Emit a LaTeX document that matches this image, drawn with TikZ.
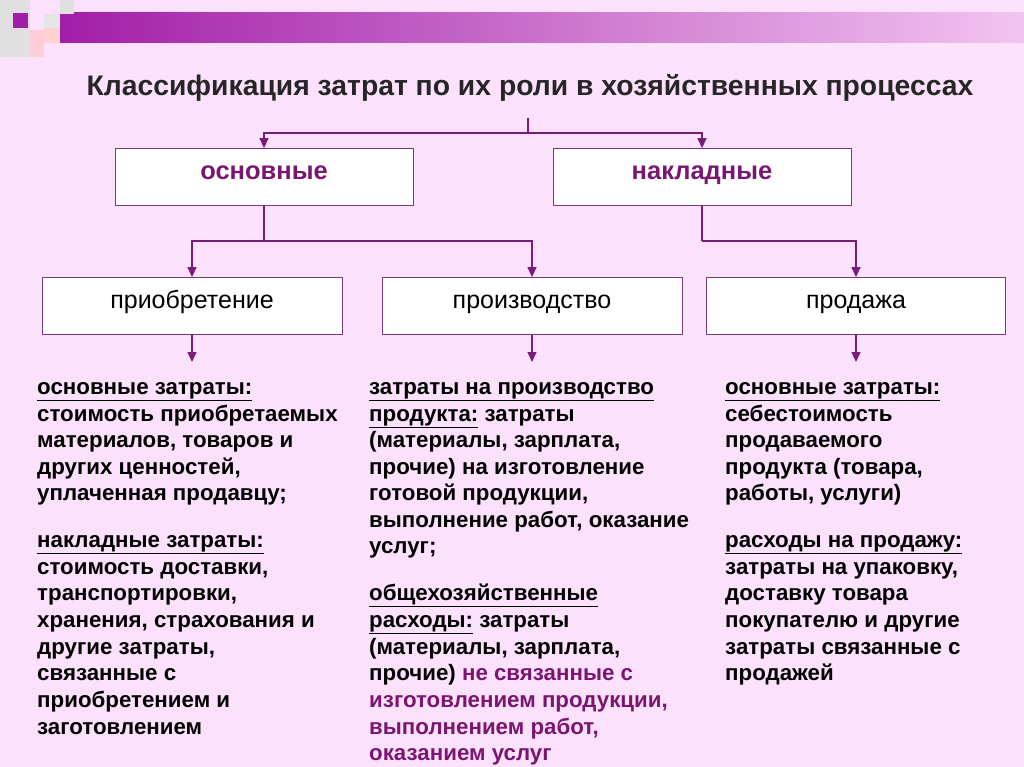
\documentclass[tikz,border=0pt]{standalone}
\usepackage{fontspec}
\setmainfont{Liberation Sans}
\usetikzlibrary{arrows.meta}
\definecolor{bg}{HTML}{FCE1FC}
\definecolor{ln}{HTML}{781C78}
\definecolor{pt}{HTML}{7A1670}
\definecolor{bar1}{HTML}{A21EA8}
\definecolor{bar2}{HTML}{F2C4F0}
\newcommand{\pu}[1]{\textcolor{pt}{#1}}
\newcommand{\ul}[1]{\underline{#1}}
\begin{document}
\begin{tikzpicture}[x=1pt,y=-1pt,
  box/.style={draw=ln!70!gray,fill=white,line width=0.8pt,minimum height=57pt,inner sep=0pt,text height=0.56em,text depth=0pt},
  conn/.style={draw=ln,line width=1.3pt},
  arr/.style={conn,-{Triangle[length=10pt,width=9pt]}},
  tl/.style={anchor=base west,inner sep=0pt,font=\fontsize{22.3}{24}\selectfont\bfseries}]
\fill[bg] (0,0) rectangle (1024,767);
\useasboundingbox (0,0) rectangle (1024,767);
% top bar
\shade[left color=bar1,right color=bar2] (60,13) rectangle (1024,43);
\fill[black!12] (0,0) rectangle (30,57);
\fill[pink!60!bg] (30,30) rectangle (44,57);
\fill[bar1] (13,13) rectangle (28,28);
\fill[black!10] (44,14) rectangle (60,28);
\fill[pink!70] (44,28) rectangle (60,43);
\fill[black!12] (60,0) rectangle (74,14);
% title
\node[font=\fontsize{28.3}{30}\selectfont\bfseries,text=black!85] (title) at (530,88) {Классификация затрат по их роли в хозяйственных процессах};
% level 1
\node[box,minimum width=298pt,font=\fontsize{25.5}{27}\selectfont\bfseries,text=pt] (osn) at (264,177) {основные};
\node[box,minimum width=298pt,font=\fontsize{25.5}{27}\selectfont\bfseries,text=pt] (nak) at (702,177) {накладные};
\coordinate (top) at (528,118);
\draw[conn] (top) -- (528,133);
\draw[arr] (528,133) -| (osn.north);
\draw[arr] (528,133) -| (nak.north);
% level 2
\node[box,minimum width=300pt,font=\fontsize{25}{27}\selectfont] (pri) at (192,306) {приобретение};
\node[box,minimum width=300pt,font=\fontsize{25}{27}\selectfont] (pro) at (532,306) {производство};
\node[box,minimum width=299pt,font=\fontsize{25}{27}\selectfont] (prd) at (856,306) {продажа};
\draw[conn] (osn.south) -- (264,241);
\draw[conn] (nak.south) -- (702,241);
\draw[arr] (264,241) -| (pri.north);
\draw[arr] (264,241) -| (pro.north);
\draw[arr] (702,241) -| (prd.north);
\coordinate (a1) at (192,362);
\coordinate (a2) at (532,362);
\coordinate (a3) at (856,362);
\draw[arr] (pri.south) -- (a1);
\draw[arr] (pro.south) -- (a2);
\draw[arr] (prd.south) -- (a3);
% column 1
\node[tl] (c1a) at (37,394) {\ul{основные затраты:}};
\node[tl] (c1b) at (37,421) {стоимость приобретаемых};
\node[tl] (c1c) at (37,447) {материалов, товаров и};
\node[tl] (c1d) at (37,474) {других ценностей,};
\node[tl] (c1e) at (37,500) {уплаченная продавцу;};
\node[tl] (c1f) at (37,547) {\ul{накладные затраты:}};
\node[tl] (c1g) at (37,574) {стоимость доставки,};
\node[tl] (c1h) at (37,600) {транспортировки,};
\node[tl] (c1i) at (37,627) {хранения, страхования и};
\node[tl] (c1j) at (37,654) {другие затраты,};
\node[tl] (c1k) at (37,680) {связанные с};
\node[tl] (c1l) at (37,707) {приобретением и};
\node[tl] (c1m) at (37,734) {заготовлением};
% column 2
\node[tl] (c2a) at (369,394) {\ul{затраты на производство}};
\node[tl] (c2b) at (369,421) {\ul{продукта:} затраты};
\node[tl] (c2c) at (369,447) {(материалы, зарплата,};
\node[tl] (c2d) at (369,474) {прочие) на изготовление};
\node[tl] (c2e) at (369,500) {готовой продукции,};
\node[tl] (c2f) at (369,527) {выполнение работ, оказание};
\node[tl] (c2g) at (369,553) {услуг;};
\node[tl] (c2h) at (369,600) {\ul{общехозяйственные}};
\node[tl] (c2i) at (369,627) {\ul{расходы:} затраты};
\node[tl] (c2j) at (369,654) {(материалы, зарплата,};
\node[tl] (c2k) at (369,680) {прочие) \pu{не связанные с}};
\node[tl] (c2l) at (369,707) {\pu{изготовлением продукции,}};
\node[tl] (c2m) at (369,734) {\pu{выполнением работ,}};
\node[tl] (c2n) at (369,760) {\pu{оказанием услуг}};
% column 3
\node[tl] (c3a) at (725,394) {\ul{основные затраты:}};
\node[tl] (c3b) at (725,421) {себестоимость};
\node[tl] (c3c) at (725,447) {продаваемого};
\node[tl] (c3d) at (725,474) {продукта (товара,};
\node[tl] (c3e) at (725,500) {работы, услуги)};
\node[tl] (c3f) at (725,547) {\ul{расходы на продажу:}};
\node[tl] (c3g) at (725,574) {затраты на упаковку,};
\node[tl] (c3h) at (725,600) {доставку товара};
\node[tl] (c3i) at (725,627) {покупателю и другие};
\node[tl] (c3j) at (725,654) {затраты связанные с};
\node[tl] (c3k) at (725,680) {продажей};
\end{tikzpicture}
\end{document}
